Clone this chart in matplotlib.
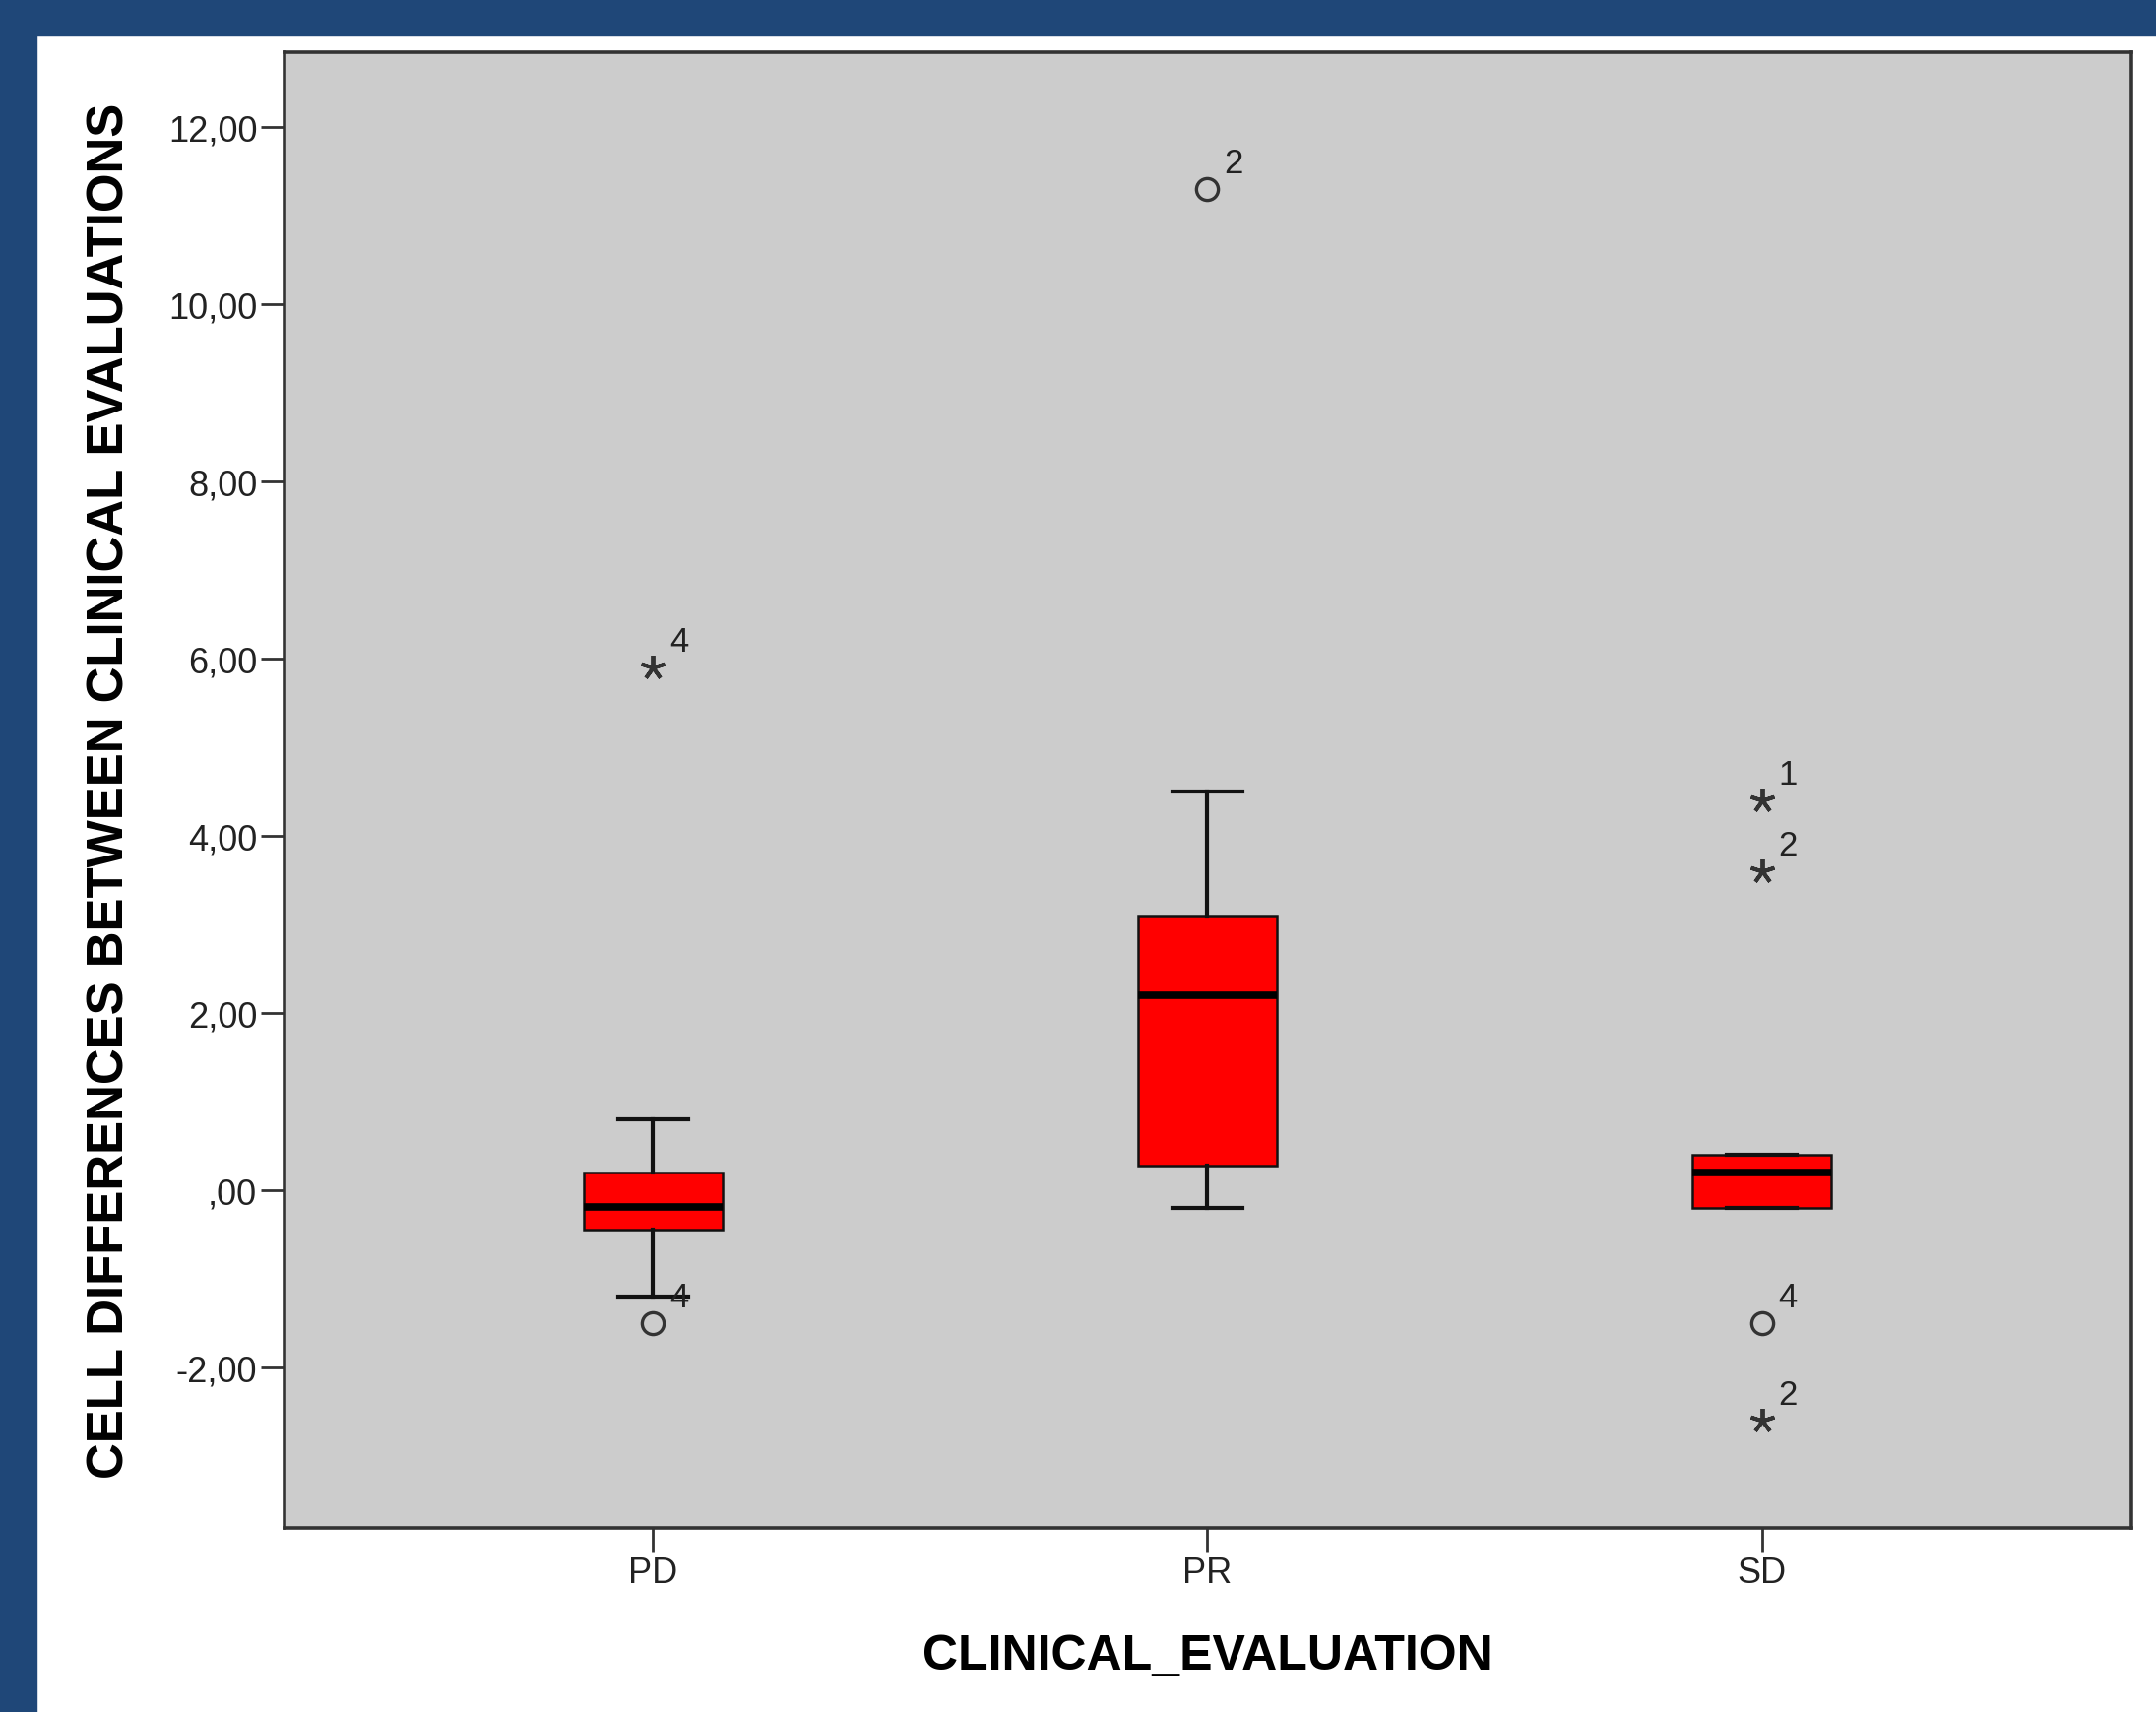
import matplotlib
matplotlib.use("Agg")
import matplotlib.pyplot as plt
from matplotlib.patches import Rectangle

plt.rcParams['font.family'] = ['Liberation Sans', 'DejaVu Sans']

# groups and box statistics
groups = ['PD', 'PR', 'SD']
whislo = [-1.20, -0.20, -0.20]
q1 = [-0.45, 0.28, -0.20]
med = [-0.19, 2.20, 0.20]
q3 = [0.20, 3.10, 0.40]
whishi = [0.80, 4.50, 0.40]

# outliers (circles) and extremes (stars) with their case labels
circle_grp = [0, 1, 2]
circle_val = [-1.50, 11.30, -1.50]
circle_lab = ['4', '2', '4']
star_grp = [0, 2, 2, 2]
star_val = [5.90, 4.40, 3.60, -2.60]
star_lab = ['4', '1', '2', '2']

yticks = [-2, 0, 2, 4, 6, 8, 10, 12]
yticklabels = ['-2,00', ',00', '2,00', '4,00', '6,00', '8,00', '10,00', '12,00']

fig = plt.figure(figsize=(21.9, 17.4), dpi=100)
fig.patch.set_facecolor('white')
blue = '#1f4778'
fig.add_artist(Rectangle((0, 0.9787), 1, 0.0213, transform=fig.transFigure, color=blue, zorder=0))
fig.add_artist(Rectangle((0, 0), 0.0169, 1, transform=fig.transFigure, color=blue, zorder=0))

ax = fig.add_axes([0.132, 0.1075, 0.8566, 0.8615])
ax.set_facecolor('#cccccc')

stats = []
for i, g in enumerate(groups):
    stats.append(dict(label=g, whislo=whislo[i], q1=q1[i], med=med[i],
                      q3=q3[i], whishi=whishi[i], fliers=[]))

ax.bxp(stats, positions=range(len(groups)), widths=0.25, patch_artist=True,
       showfliers=False,
       boxprops=dict(facecolor='#ff0000', edgecolor='#111111', linewidth=1.8),
       whiskerprops=dict(color='#111111', linewidth=3),
       capprops=dict(color='#111111', linewidth=3),
       capwidths=0.125,
       medianprops=dict(color='black', linewidth=5.5))

ax.plot(circle_grp, circle_val, ls='none', marker='o', ms=16, mfc='none',
        mec='#333333', mew=2.4)
ax.plot(star_grp, star_val, ls='none', marker=(5, 2, 0), ms=18,
        mec='#333333', mew=2.8)

for x, y, t in zip(circle_grp + star_grp, circle_val + star_val, circle_lab + star_lab):
    ax.annotate(t, (x, y), xytext=(19, 19), textcoords='offset points',
                ha='center', va='center', fontsize=25, color='#222222')

ax.set_xlim(-0.665, 2.667)
ax.set_ylim(-3.81, 12.84)
ax.set_yticks(yticks)
ax.set_yticklabels(yticklabels)
ax.set_xticks(range(len(groups)))
ax.set_xticklabels(groups)
ax.tick_params(length=17, width=2, color='#333333', labelsize=26,
               labelcolor='#222222', pad=3)

for s in ax.spines.values():
    s.set_color('#333333')
    s.set_linewidth(2.6)

fig.text(0.0511, 0.5385, 'CELL DIFFERENCES BETWEEN CLINICAL EVALUATIONS',
         rotation=90, ha='center', va='center', fontsize=36.7, fontweight='bold')
fig.text(0.5598, 0.0328, 'CLINICAL_EVALUATION', ha='center', va='center',
         fontsize=36, fontweight='bold')

fig.savefig('out.png', dpi=100)
